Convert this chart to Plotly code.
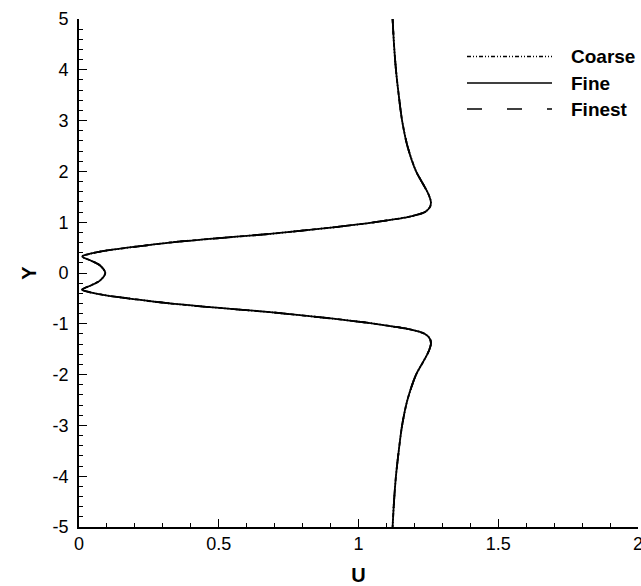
import plotly.graph_objects as go

# Velocity profile U(Y) for three grid resolutions
y_vals = [5.0, 4.5, 4.0, 3.5, 3.0, 2.5, 2.0, 1.8, 1.6, 1.5, 1.4, 1.3, 1.2, 1.1,
          1.05, 1.0, 0.96, 0.9, 0.83, 0.77, 0.715, 0.66, 0.6, 0.52, 0.43, 0.38,
          0.34, 0.32, 0.25, 0.15, 0.0, -0.15, -0.25, -0.32, -0.34, -0.38, -0.43,
          -0.52, -0.6, -0.66, -0.715, -0.77, -0.83, -0.9, -0.96, -1.0, -1.05,
          -1.1, -1.2, -1.3, -1.4, -1.5, -1.6, -1.8, -2.0, -2.5, -3.0, -3.5,
          -4.0, -4.5, -5.0]

u_coarse = [1.122, 1.127, 1.134, 1.144, 1.156, 1.175, 1.206, 1.226, 1.246, 1.254,
            1.259, 1.256, 1.238, 1.175, 1.12, 1.06, 1.005, 0.91, 0.79, 0.683,
            0.563, 0.444, 0.325, 0.205, 0.085, 0.04, 0.014, 0.012, 0.04, 0.075,
            0.094, 0.075, 0.04, 0.012, 0.014, 0.04, 0.085, 0.205, 0.325, 0.444,
            0.563, 0.683, 0.79, 0.91, 1.005, 1.06, 1.12, 1.175, 1.238, 1.256,
            1.259, 1.254, 1.246, 1.226, 1.206, 1.175, 1.156, 1.144, 1.134, 1.127,
            1.122]

u_fine = [1.122, 1.127, 1.134, 1.144, 1.156, 1.175, 1.206, 1.226, 1.246, 1.254,
          1.259, 1.256, 1.238, 1.175, 1.12, 1.06, 1.005, 0.91, 0.79, 0.683,
          0.563, 0.444, 0.325, 0.205, 0.085, 0.04, 0.014, 0.012, 0.04, 0.075,
          0.094, 0.075, 0.04, 0.012, 0.014, 0.04, 0.085, 0.205, 0.325, 0.444,
          0.563, 0.683, 0.79, 0.91, 1.005, 1.06, 1.12, 1.175, 1.238, 1.256,
          1.259, 1.254, 1.246, 1.226, 1.206, 1.175, 1.156, 1.144, 1.134, 1.127,
          1.122]

u_finest = [1.122, 1.127, 1.134, 1.144, 1.156, 1.175, 1.206, 1.226, 1.246, 1.254,
            1.259, 1.256, 1.238, 1.175, 1.12, 1.06, 1.005, 0.91, 0.79, 0.683,
            0.563, 0.444, 0.325, 0.205, 0.085, 0.04, 0.014, 0.012, 0.04, 0.075,
            0.094, 0.075, 0.04, 0.012, 0.014, 0.04, 0.085, 0.205, 0.325, 0.444,
            0.563, 0.683, 0.79, 0.91, 1.005, 1.06, 1.12, 1.175, 1.238, 1.256,
            1.259, 1.254, 1.246, 1.226, 1.206, 1.175, 1.156, 1.144, 1.134, 1.127,
            1.122]

series_names = ["Coarse", "Fine", "Finest"]
series_dash = ["4px,2px,1px,2px,1px,2px", "solid", "15px,25px"]

x_tick_vals = [0, 0.5, 1, 1.5, 2]
x_tick_text = ["0", "0.5", "1", "1.5", "2"]
y_tick_vals = [5, 4, 3, 2, 1, 0, -1, -2, -3, -4, -5]
y_tick_text = ["5", "4", "3", "2", "1", "0", "-1", "-2", "-3", "-4", "-5"]

W, H = 641, 586
M = dict(l=79, r=3, t=19, b=59)
FONT = "Liberation Sans, Arial, Helvetica, sans-serif"
PAD = "\u00a0"  # small gap between y labels and the axis line

fig = go.Figure()
for name, u, dash in zip(series_names, [u_coarse, u_fine, u_finest], series_dash):
    fig.add_trace(go.Scatter(
        x=u, y=y_vals, mode="lines", name=name, showlegend=False,
        line=dict(color="black", width=1.8, dash=dash, shape="spline", smoothing=0.8),
    ))

# Hand-built legend (long line samples)
pw = W - M["l"] - M["r"]
ph = H - M["t"] - M["b"]


def px_x(px):
    return (px - M["l"]) / pw


def px_y(py):
    return (H - M["b"] - py) / ph


legend_rows = [56.5, 83, 109]
for name, dash, py in zip(series_names, series_dash, legend_rows):
    fig.add_shape(type="line", xref="paper", yref="paper",
                  x0=px_x(467), x1=px_x(552), y0=px_y(py), y1=px_y(py),
                  line=dict(color="black", width=1.6, dash=dash))
    fig.add_annotation(xref="paper", yref="paper", x=px_x(569), y=px_y(py),
                       text=f"<b>{name}</b>", showarrow=False,
                       xanchor="left", yanchor="middle",
                       font=dict(family=FONT, size=19, color="black"))

axis_common = dict(
    showline=True, linecolor="black", linewidth=1.6, mirror=False,
    showgrid=False, zeroline=False, automargin=False,
    ticks="inside", ticklen=8, tickwidth=1.4, tickcolor="black",
    tickfont=dict(family=FONT, size=18, color="black"),
    ticklabeloverflow="allow",
)

fig.update_xaxes(
    range=[0, 2], tickvals=x_tick_vals, ticktext=x_tick_text,
    minor=dict(ticks="inside", tickvals=[round(0.1 * i, 1) for i in range(21)],
               ticklen=4, tickwidth=1.2, tickcolor="black"),
    title=dict(text="<b>U</b>", font=dict(family=FONT, size=20, color="black"), standoff=15),
    **axis_common,
)
fig.update_yaxes(
    range=[-5, 5], tickvals=y_tick_vals, ticktext=[t + PAD for t in y_tick_text],
    minor=dict(ticks="inside", tickvals=[round(-5 + 0.2 * i, 1) for i in range(51)],
               ticklen=4, tickwidth=1.2, tickcolor="black"),
    title=dict(text="<b>Y</b>", font=dict(family=FONT, size=20, color="black"), standoff=11),
    **axis_common,
)

fig.update_layout(
    width=W, height=H, margin=M,
    paper_bgcolor="white", plot_bgcolor="white",
    font=dict(family=FONT, color="black"),
)

fig.write_html("out.html")
